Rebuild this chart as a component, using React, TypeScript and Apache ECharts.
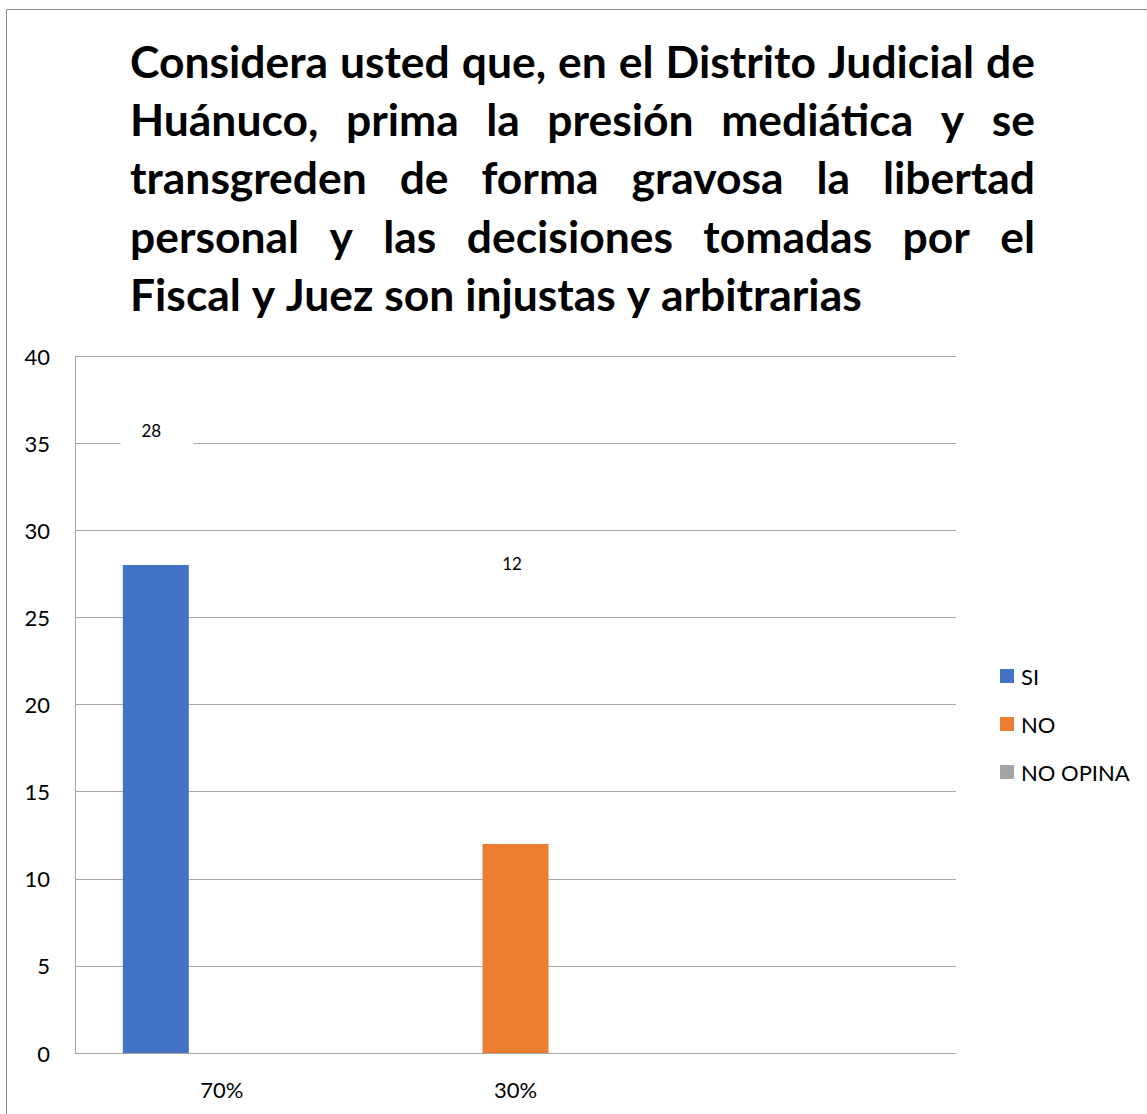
import React, { useEffect, useRef } from "react";
import * as echarts from "echarts";

const titleLines = [
  "Considera usted que, en el Distrito Judicial de",
  "Huánuco, prima la presión mediática y se",
  "transgreden de forma gravosa la libertad",
  "personal y las decisiones tomadas por el",
  "Fiscal y Juez son injustas y arbitrarias",
];
const categories = ["70%", "30%", ""];
const seriesNames = ["SI", "NO", "NO OPINA"];
const siValues = [28, null, null];
const noValues = [null, 12, null];
const noOpinaValues = [null, null, null];
const colors = ["#4472c4", "#ed7d31", "#a5a5a5"];
const yMin = 0;
const yMax = 40;
const yInterval = 5;

const FONT = "Lato";

export default function App() {
  const ref = useRef<HTMLDivElement>(null);
  useEffect(() => {
    if (!ref.current) return;
    const chart = echarts.init(ref.current, undefined, { renderer: "svg" });

    // title layout (justified like the original)
    const ctx = document.createElement("canvas").getContext("2d")!;
    let fs = 40;
    ctx.font = `bold ${fs}px ${FONT}`;
    const wLast = ctx.measureText(titleLines[titleLines.length - 1]).width;
    fs = Math.max(34, Math.min(46, (fs * 732) / wLast));
    ctx.font = `bold ${fs}px ${FONT}`;
    const left = 130;
    const right = 1035;
    const titleEls: any[] = [];
    titleLines.forEach((line, i) => {
      const y = 60 + i * 58.4;
      const words = line.split(" ");
      const widths = words.map((w) => ctx.measureText(w).width);
      const total = widths.reduce((a, b) => a + b, 0);
      const justify = i < titleLines.length - 1 && words.length > 1;
      const gap = justify
        ? (right - left - total) / (words.length - 1)
        : ctx.measureText(" ").width;
      let x = left;
      words.forEach((w, k) => {
        titleEls.push({
          type: "text",
          x,
          y,
          silent: true,
          style: {
            text: w,
            fontFamily: FONT,
            fontWeight: "bold",
            fontSize: fs,
            fill: "#000",
            align: "left",
            verticalAlign: "middle",
          },
        });
        x += widths[k] + gap;
      });
    });

    const labelBase = {
      show: true,
      fontFamily: FONT,
      fontSize: 17,
      color: "#000",
      backgroundColor: "#fff",
      padding: [8, 32, 10, 21],
      align: "center",
      verticalAlign: "middle",
    };

    chart.setOption({
      animation: false,
      backgroundColor: "#fff",
      textStyle: { fontFamily: FONT },
      graphic: [
        {
          type: "rect",
          silent: true,
          shape: { x: 6.5, y: 9.5, width: 1400, height: 1400 },
          style: { fill: "none", stroke: "#8c8c8c", lineWidth: 1 },
          z: -10,
        },
        ...titleEls,
      ],
      legend: {
        data: seriesNames,
        orient: "vertical",
        left: 1000,
        top: 665,
        padding: 0,
        itemWidth: 14,
        itemHeight: 14,
        itemGap: 26,
        icon: "rect",
        textStyle: {
          fontFamily: FONT,
          fontSize: 22,
          lineHeight: 22,
          color: "#000",
          padding: [0, 0, 0, 2],
        },
      },
      grid: { left: 75, right: 191, top: 356, bottom: 61, containLabel: false },
      xAxis: {
        type: "category",
        data: categories,
        axisLine: { show: true, lineStyle: { color: "#a6a6a6", width: 1 } },
        axisTick: { show: false },
        axisLabel: {
          fontFamily: FONT,
          fontSize: 22,
          color: "#000",
          margin: 25,
        },
        splitLine: { show: false },
      },
      yAxis: {
        type: "value",
        min: yMin,
        max: yMax,
        interval: yInterval,
        axisLine: { show: true, lineStyle: { color: "#a6a6a6", width: 1 } },
        axisTick: { show: false },
        axisLabel: {
          fontFamily: FONT,
          fontSize: 22,
          color: "#000",
          margin: 25,
        },
        splitLine: { show: true, lineStyle: { color: "#a6a6a6", width: 1 } },
      },
      series: [
        {
          name: seriesNames[0],
          type: "bar",
          data: siValues,
          barWidth: 66,
          barGap: "0%",
          itemStyle: { color: colors[0] },
          label: { ...labelBase, position: ["50%", -135], offset: [1, 0] },
        },
        {
          name: seriesNames[1],
          type: "bar",
          data: noValues,
          barWidth: 66,
          barGap: "0%",
          itemStyle: { color: colors[1] },
          label: { ...labelBase, position: ["50%", -280], offset: [2, 0] },
        },
        {
          name: seriesNames[2],
          type: "bar",
          data: noOpinaValues,
          barWidth: 66,
          barGap: "0%",
          itemStyle: { color: colors[2] },
          label: { ...labelBase, position: ["50%", -20] },
        },
      ],
    });
    return () => chart.dispose();
  }, []);
  return (
    <div
      ref={ref}
      style={{ position: "absolute", left: 0, top: 0, width: 1147, height: 1114 }}
    />
  );
}
